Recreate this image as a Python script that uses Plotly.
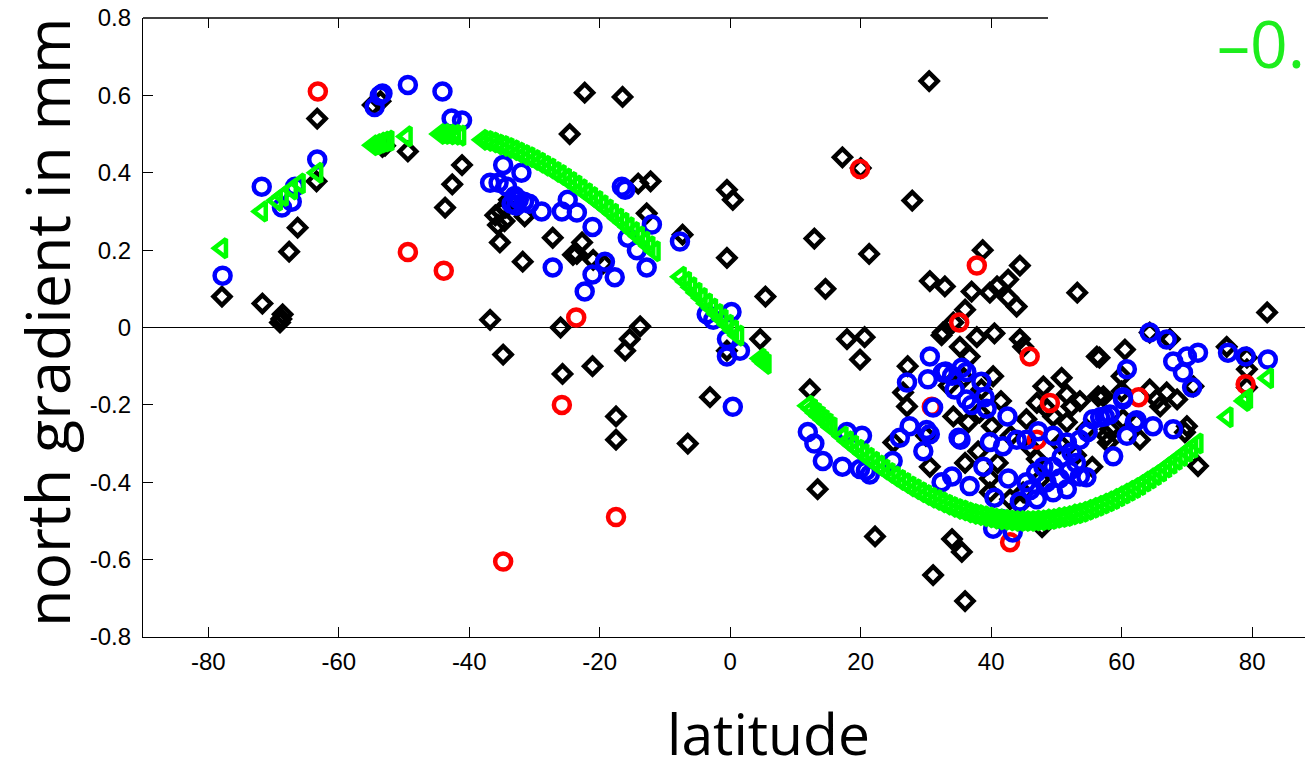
import plotly.graph_objects as go

# ---------------- data ----------------
black_lat = [-77.9, -71.7, -69.0, -68.6, -68.8, -67.6, -66.3, -63.4, -63.3, -54.8, -53.6, -53.3,
             -49.4, -52.9, -41.1, -42.6, -43.7, -35.3, -31.8, -27.2, -24.6, -22.3, -16.5, -36.0,
             -35.2, -34.6, -35.6, -34.4, -33.9, -31.5, -23.5, -22.7, -21.0, -19.5, -24.1, -14.1,
             -12.2, -12.8, -7.3, -36.8, -26.0, -13.8, -15.4, -34.8, -25.7, -21.1, -16.1, -17.5,
             -17.5, -6.5, -3.1, 4.6, -0.5, -0.5, 0.4, -0.5, 5.4,
             30.5, 17.2, 20.0, 27.9, 12.9, 21.3, 14.6, 30.6, 32.9, 38.7, 37.0, 36.0, 34.2, 32.6,
             39.8, 40.9, 42.6, 44.4, 42.6, 43.9, 53.2, 17.9, 20.6, 19.9, 37.8, 40.5, 44.4, 12.2,
             13.4, 22.2, 32.4, 35.2, 36.7, 44.9, 40.3, 26.5, 27.1, 25.0, 30.6, 34.0, 35.5, 31.1,
             36.0, 34.2, 36.5, 38.2, 40.1, 36.0, 39.8, 47.0, 48.0, 50.8, 51.6, 52.3, 53.6, 49.5,
             45.4, 48.5, 56.2, 56.4, 58.2, 60.5, 60.0, 64.3, 66.9, 60.2, 51.6, 54.6, 57.7, 47.0,
             47.5, 44.9, 42.9, 39.8, 44.4, 47.8, 82.3, 56.6, 64.3, 67.4, 71.0, 76.1, 79.2, 79.2,
             79.2, 65.4, 68.5, 65.9, 70.0, 69.7, 71.7, 57.2, 60.0, 62.3, 62.8, 57.9,
             33.5, 35.8, 38.5, 41.5, 43.0, 46.0, 50.5, 53.0, 55.5, 38.0, 41.0, 30.0, 27.2]
black_val = [0.08, 0.062, 0.013, 0.034, 0.022, 0.196, 0.258, 0.378, 0.54, 0.575, 0.585, 0.467,
             0.455, 0.47, 0.42, 0.37, 0.31, 0.22, 0.17, 0.232, 0.50, 0.607, 0.596, 0.29,
             0.30, 0.275, 0.265, 0.31, 0.33, 0.287, 0.19, 0.22, 0.175, 0.165, 0.188, 0.372,
             0.378, 0.295, 0.24, 0.02, 0.0, 0.003, -0.03, -0.07, -0.12, -0.10, -0.06, -0.23,
             -0.29, -0.30, -0.18, -0.03, -0.06, 0.356, 0.33, 0.18, 0.08,
             0.637, 0.44, 0.412, 0.328, 0.23, 0.19, 0.10, 0.12, 0.106, 0.20, 0.093, 0.046, 0.013, -0.013,
             0.09, 0.106, 0.124, 0.16, 0.077, 0.054, 0.09, -0.03, -0.025, -0.083, -0.025, -0.015, -0.03, -0.16,
             -0.418, -0.54, -0.02, -0.05, -0.075, -0.05, -0.126, -0.168, -0.204, -0.297, -0.36, -0.547, -0.58, -0.64,
             -0.707, -0.23, -0.245, -0.22, -0.255, -0.35, -0.39, -0.195, -0.152, -0.13, -0.173, -0.204, -0.19, -0.23,
             -0.237, -0.21, -0.075, -0.178, -0.263, -0.057, -0.165, -0.16, -0.168, -0.237, -0.245, -0.263, -0.28, -0.34,
             -0.392, -0.426, -0.444, -0.426, -0.457, -0.516, 0.039, -0.078, -0.013, -0.03, -0.152, -0.05, -0.078, -0.108,
             -0.155, -0.186, -0.186, -0.204, -0.255, -0.271, -0.358, -0.178, -0.126, -0.245, -0.29, -0.297,
             -0.15, -0.13, -0.16, -0.19, -0.28, -0.31, -0.30, -0.33, -0.36, -0.32, -0.35, -0.28, -0.10]

red_lat = [-63.2, -49.4, -43.9, -23.6, -25.8, -17.5, -34.8, 19.9, 37.8, 35.1, 45.9, 30.9, 49.0,
           42.9, 47.0, 62.6, 79.0]
red_val = [0.61, 0.195, 0.147, 0.026, -0.20, -0.49, -0.605, 0.41, 0.16, 0.013, -0.075, -0.205,
           -0.195, -0.555, -0.29, -0.18, -0.147]

blue_lat = [-77.8, -71.8, -68.7, -66.7, -67.2, -63.3, -53.7, -54.5, -53.3, -49.4, -44.1, -42.7,
            -41.1, -34.8, -32.0, -36.8, -35.5, -34.2, -33.0, -32.4, -31.6, -33.5, -30.8, -32.8,
            -28.9, -25.8, -23.5, -24.9, -21.1, -27.2, -22.3, -21.1, -19.2, -17.7, -16.1, -16.6,
            -15.7, -14.3, -12.8, -12.0, -7.7, -3.6, -2.6, -0.5, -0.5, 1.5, 0.4, 0.2,
            11.9, 12.9, 14.2, 17.2, 19.9, 21.4, 20.8, 17.9, 20.2, 24.9, 26.0, 27.5, 30.1, 29.6,
            30.6, 27.1, 30.3, 30.6, 31.1, 32.4, 34.0, 32.6, 33.0, 34.0, 35.5, 36.2, 34.4, 36.2,
            37.0, 39.0, 39.3, 42.5, 35.0, 35.3, 39.8, 41.8, 43.9, 45.4, 47.2, 49.5, 51.6, 52.3,
            53.6, 54.8, 55.6, 56.7, 58.2, 58.7, 60.2, 60.8, 62.3, 64.8, 67.9, 64.3, 66.9, 67.9,
            38.8, 36.7, 40.5, 42.6, 45.4, 46.9, 48.0, 49.5, 50.8, 53.0, 53.6, 54.6, 51.6, 49.5,
            47.0, 44.4, 41.6, 40.3, 43.3, 50.5, 52.0, 48.5, 46.0, 71.7, 70.0, 69.4, 70.8, 60.2,
            57.4, 62.0, 60.8, 76.3, 79.0, 82.4, 38.5]
blue_val = [0.134, 0.364, 0.31, 0.364, 0.325, 0.434, 0.60, 0.57, 0.605, 0.627, 0.61, 0.54,
            0.535, 0.42, 0.40, 0.374, 0.374, 0.364, 0.34, 0.33, 0.325, 0.32, 0.32, 0.315,
            0.30, 0.30, 0.297, 0.33, 0.26, 0.155, 0.093, 0.137, 0.17, 0.13, 0.356, 0.364,
            0.232, 0.20, 0.155, 0.266, 0.222, 0.034, 0.02, -0.03, -0.075, -0.06, -0.205, 0.04,
            -0.27, -0.30, -0.345, -0.36, -0.366, -0.38, -0.37, -0.27, -0.28, -0.345, -0.285, -0.255, -0.265, -0.32,
            -0.276, -0.142, -0.134, -0.075, -0.207, -0.40, -0.385, -0.116, -0.114, -0.125, -0.104, -0.115, -0.16, -0.186,
            -0.20, -0.18, -0.21, -0.23, -0.285, -0.29, -0.296, -0.307, -0.29, -0.29, -0.268, -0.28, -0.297, -0.323,
            -0.29, -0.27, -0.237, -0.232, -0.225, -0.333, -0.186, -0.108, -0.24, -0.255, -0.263, -0.013, -0.031, -0.088,
            -0.36, -0.41, -0.44, -0.39, -0.40, -0.375, -0.36, -0.36, -0.335, -0.35, -0.385, -0.387, -0.418, -0.426,
            -0.444, -0.45, -0.495, -0.52, -0.53, -0.39, -0.37, -0.40, -0.42, -0.065, -0.075, -0.116, -0.155, -0.18,
            -0.23, -0.245, -0.28, -0.065, -0.075, -0.083, -0.14]

green_lat = [-77.9, -71.8, -69.5, -68.6, -67.2, -66.0, -63.3,
             -54.8, -54.2, -53.6, -53.0, -52.4, -49.6, -44.5, -43.8, -43.0, -42.2, -41.4,
             -38.0, -37.2, -36.4, -35.6, -34.8, -34.0, -33.2, -32.4, -31.6, -30.8, -30.0, -29.2,
             -28.4, -27.6, -26.8, -26.0, -25.2, -24.4, -23.6, -22.8, -22.0, -21.2, -20.4, -19.6,
             -18.8, -18.0, -17.2, -16.4, -15.6, -14.8, -14.0, -13.2, -12.4, -11.6,
             -7.6, -6.8, -6.0, -5.2, -4.4, -3.6, -2.8, -2.0, -1.2, -0.4, 0.4, 1.2, 4.6, 5.0, 5.4,
             11.9, 12.5, 13.1, 13.7, 14.3, 14.9, 15.5,
             17.2, 18.0, 18.8, 19.6, 20.4, 21.2, 22.0, 22.8, 23.6, 24.4, 25.2, 26.0, 26.8, 27.6,
             28.4, 29.2, 30.0, 30.8, 31.6, 32.4, 33.2, 34.0, 34.8, 35.6, 36.4, 37.2, 38.0, 38.8,
             39.6, 40.4, 41.2, 42.0, 42.8, 43.6, 44.4, 45.2, 46.0, 46.8, 47.6, 48.4, 49.2, 50.0,
             50.8, 51.6, 52.4, 53.2, 54.0, 54.8, 55.6, 56.4, 57.2, 58.0, 58.8, 59.6, 60.4, 61.2,
             62.0, 62.8, 63.6, 64.4, 65.2, 66.0, 66.8, 67.6, 68.4, 69.2, 70.0, 70.8, 71.6,
             76.2, 78.8, 79.2, 82.4]
green_val = [0.205, 0.30, 0.328, 0.34, 0.357, 0.372, 0.40,
             0.471, 0.474, 0.478, 0.481, 0.483, 0.494, 0.50, 0.50, 0.499, 0.498, 0.496,
             0.485, 0.482, 0.478, 0.473, 0.469, 0.464, 0.458, 0.452, 0.446, 0.440, 0.433, 0.426,
             0.418, 0.411, 0.402, 0.394, 0.385, 0.376, 0.367, 0.357, 0.347, 0.337, 0.327, 0.316,
             0.305, 0.294, 0.282, 0.271, 0.259, 0.247, 0.235, 0.222, 0.210, 0.197,
             0.131, 0.118, 0.104, 0.090, 0.076, 0.062, 0.049, 0.035, 0.021, 0.007, -0.007, -0.021, -0.080, -0.087, -0.094,
             -0.202, -0.211, -0.221, -0.230, -0.239, -0.248, -0.258,
             -0.282, -0.294, -0.305, -0.316, -0.327, -0.337, -0.347, -0.357, -0.367, -0.376, -0.385, -0.394, -0.402, -0.411,
             -0.418, -0.426, -0.433, -0.440, -0.446, -0.452, -0.458, -0.464, -0.469, -0.473, -0.478, -0.482, -0.485, -0.488,
             -0.491, -0.494, -0.496, -0.497, -0.499, -0.500, -0.500, -0.500, -0.500, -0.499, -0.498, -0.496, -0.495, -0.492,
             -0.490, -0.487, -0.483, -0.480, -0.476, -0.471, -0.466, -0.461, -0.455, -0.449, -0.443, -0.436, -0.429, -0.422,
             -0.415, -0.407, -0.398, -0.390, -0.381, -0.372, -0.362, -0.352, -0.342, -0.332, -0.321, -0.311, -0.300,
             -0.232, -0.190, -0.184, -0.131]

x_ticks = [-80, -60, -40, -20, 0, 20, 40, 60, 80]
x_ticktext = ["-80", "-60", "-40", "-20", "0", "20", "40", "60", "80"]
y_ticks = [-0.8, -0.6, -0.4, -0.2, 0, 0.2, 0.4, 0.6, 0.8]
y_ticktext = ["-0.8", "-0.6", "-0.4", "-0.2", "0", "0.2", "0.4", "0.6", "0.8"]
top_ticks = [-80, -60, -40, -20, 0, 20, 40]

x_title = "latitude"
y_title = "north gradient in mm"
corner_text = "\u20130."

# ---------------- figure ----------------
W, H = 1305, 758
L, R, T, B = 143, 0, 18, 121
x_range = [-90, 88.1]

fig = go.Figure()

fig.add_trace(go.Scatter(x=black_lat, y=black_val, mode="markers",
                         marker=dict(symbol="diamond-open", size=13, color="black",
                                     line=dict(width=4.5, color="black"))))
fig.add_trace(go.Scatter(x=red_lat, y=red_val, mode="markers",
                         marker=dict(symbol="circle-open", size=16, color="#ff0000",
                                     line=dict(width=4.5, color="#ff0000"))))
fig.add_trace(go.Scatter(x=blue_lat, y=blue_val, mode="markers",
                         marker=dict(symbol="circle-open", size=16, color="#0000ff",
                                     line=dict(width=4.5, color="#0000ff"))))
fig.add_trace(go.Scatter(x=green_lat, y=green_val, mode="markers",
                         marker=dict(symbol="triangle-left-open", size=16, color="#00ff00",
                                     line=dict(width=4.5, color="#00ff00"))))
fig.add_trace(go.Scatter(x=[], y=[], xaxis="x2", showlegend=False))

tick_font = dict(family="Liberation Sans, Arial, sans-serif", size=24, color="black")

fig.update_layout(
    width=W, height=H,
    margin=dict(l=L, r=R, t=T, b=B, pad=0),
    paper_bgcolor="white", plot_bgcolor="white",
    showlegend=False,
    xaxis=dict(range=x_range, tickvals=x_ticks, ticktext=x_ticktext, ticks="inside",
               ticklen=10, tickwidth=1.3, tickcolor="black", showline=True, linecolor="black",
               linewidth=1.3, mirror=False, showgrid=False, zeroline=False,
               tickfont=tick_font, ticklabelstandoff=3),
    xaxis2=dict(range=x_range, overlaying="x", side="top", anchor="y", tickvals=top_ticks,
                ticks="inside", ticklen=10, tickwidth=1.3, tickcolor="black",
                showticklabels=False, showline=False, showgrid=False, zeroline=False),
    yaxis=dict(range=[-0.8, 0.8], tickvals=y_ticks, ticktext=y_ticktext, ticks="inside",
               ticklen=10, tickwidth=1.3, tickcolor="black", showline=True, linecolor="black",
               linewidth=1.3, mirror=False, showgrid=False, zeroline=True,
               zerolinecolor="black", zerolinewidth=1.3, tickfont=tick_font,
               ticklabelstandoff=6),
)

plot_w = W - L - R
plot_h = H - T - B

# top border (hidden on the right under the white text box)
top_end = (1048 - L) / plot_w
fig.add_shape(type="line", xref="paper", yref="paper", x0=0, x1=top_end, y0=1, y1=1,
              line=dict(color="black", width=1.3))

fig.add_annotation(text=x_title, xref="paper", yref="paper",
                   x=(768 - L) / plot_w, y=-(733 - (H - B)) / plot_h,
                   xanchor="center", yanchor="middle", showarrow=False,
                   font=dict(family="Open Sans, sans-serif", size=57, color="black"))
fig.add_annotation(text=y_title, xref="paper", yref="paper",
                   x=(46 - L) / plot_w, y=((H - B) - 322) / plot_h,
                   xanchor="center", yanchor="middle", textangle=-90, showarrow=False,
                   font=dict(family="Open Sans, sans-serif", size=61, color="black"))
fig.add_annotation(text=corner_text, xref="paper", yref="paper",
                   x=(1215 - L) / plot_w, y=((H - B) - 42) / plot_h,
                   xanchor="left", yanchor="middle", showarrow=False,
                   font=dict(family="Open Sans, sans-serif", size=66, color="#1ded1d"))

fig.write_html("out.html", config={"displayModeBar": False},
               post_script="document.body.style.margin='0';document.body.style.overflow='hidden';")
